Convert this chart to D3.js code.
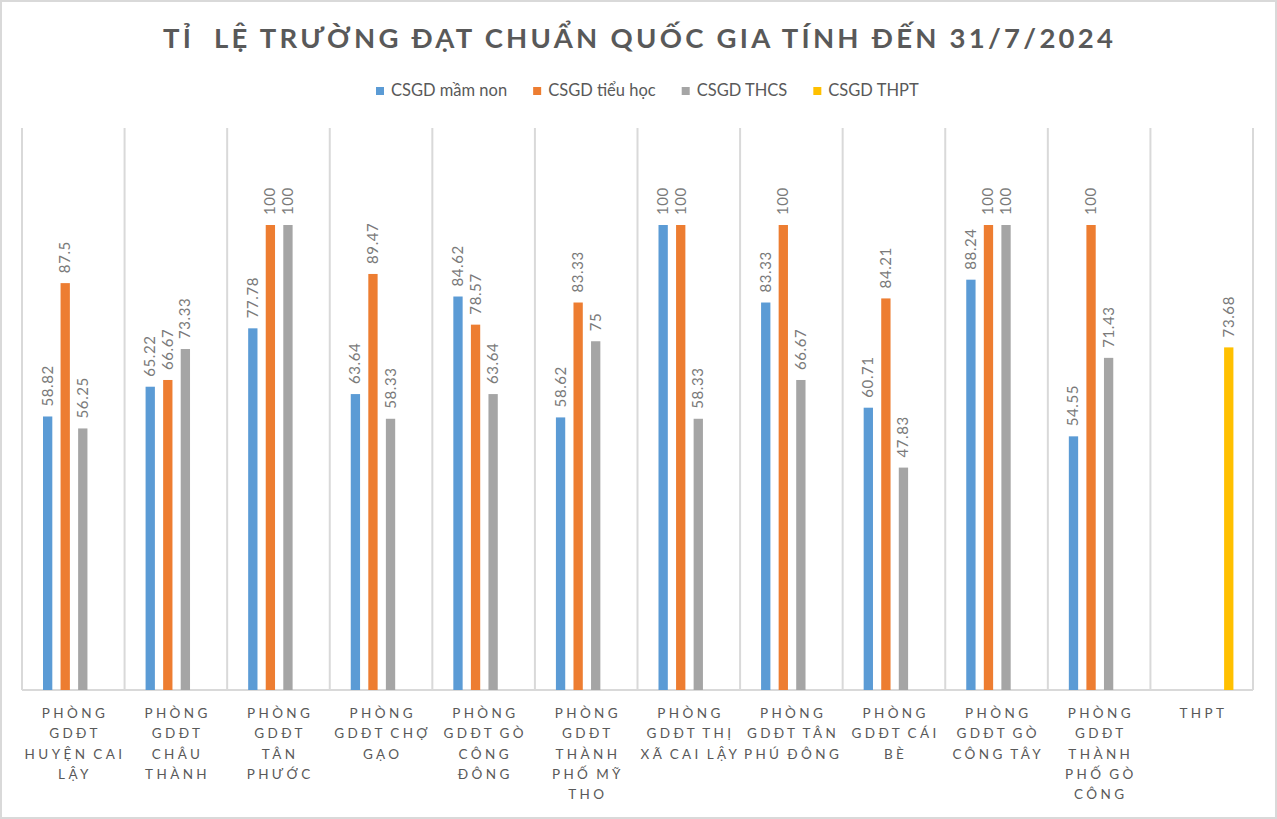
<!DOCTYPE html>
<html>
<head>
<meta charset="utf-8">
<script src="https://cdn.jsdelivr.net/npm/d3@7"></script>
<style>
  html, body { margin: 0; padding: 0; background: #fff; }
  svg { display: block; }
  text { font-family: Lato, "Open Sans", sans-serif; }
</style>
</head>
<body>
<svg id="chart" width="1277" height="819"></svg>
<script>
const titleText = "TỈ  LỆ TRƯỜNG ĐẠT CHUẨN QUỐC GIA TÍNH ĐẾN 31/7/2024";
const categories = [
  "PHÒNG GDĐT HUYỆN CAI LẬY",
  "PHÒNG GDĐT CHÂU THÀNH",
  "PHÒNG GDĐT TÂN PHƯỚC",
  "PHÒNG GDĐT CHỢ GẠO",
  "PHÒNG GDĐT GÒ CÔNG ĐÔNG",
  "PHÒNG GDĐT THÀNH PHỐ MỸ THO",
  "PHÒNG GDĐT THỊ XÃ CAI LẬY",
  "PHÒNG GDĐT TÂN PHÚ ĐÔNG",
  "PHÒNG GDĐT CÁI BÈ",
  "PHÒNG GDĐT GÒ CÔNG TÂY",
  "PHÒNG GDĐT THÀNH PHỐ GÒ CÔNG",
  "THPT"
];
const categoryLines = [
  ["PHÒNG", "GDĐT", "HUYỆN CAI", "LẬY"],
  ["PHÒNG", "GDĐT", "CHÂU", "THÀNH"],
  ["PHÒNG", "GDĐT", "TÂN", "PHƯỚC"],
  ["PHÒNG", "GDĐT CHỢ", "GẠO"],
  ["PHÒNG", "GDĐT GÒ", "CÔNG", "ĐÔNG"],
  ["PHÒNG", "GDĐT", "THÀNH", "PHỐ MỸ", "THO"],
  ["PHÒNG", "GDĐT THỊ", "XÃ CAI LẬY"],
  ["PHÒNG", "GDĐT TÂN", "PHÚ ĐÔNG"],
  ["PHÒNG", "GDĐT CÁI", "BÈ"],
  ["PHÒNG", "GDĐT GÒ", "CÔNG TÂY"],
  ["PHÒNG", "GDĐT", "THÀNH", "PHỐ GÒ", "CÔNG"],
  ["THPT"]
];
const seriesNames = ["CSGD mầm non", "CSGD tiểu học", "CSGD THCS", "CSGD THPT"];
const seriesColors = ["#5b9bd5", "#ed7d31", "#a5a5a5", "#ffc000"];
const mamNon = [58.82, 65.22, 77.78, 63.64, 84.62, 58.62, 100, 83.33, 60.71, 88.24, 54.55, null];
const tieuHoc = [87.5, 66.67, 100, 89.47, 78.57, 83.33, 100, 100, 84.21, 100, 100, null];
const thcs = [56.25, 73.33, 100, 58.33, 63.64, 75, 58.33, 66.67, 47.83, 100, 71.43, null];
const thpt = [null, null, null, null, null, null, null, null, null, null, null, 73.68];
const seriesValues = [mamNon, tieuHoc, thcs, thpt];

const svg = d3.select("#chart");
const W = 1277, H = 819;
const plot = { left: 22, right: 1253, top: 132, bottom: 690 };

// outer border
svg.append("rect").attr("x", 1).attr("y", 1).attr("width", W - 2).attr("height", H - 2)
  .attr("fill", "#fff").attr("stroke", "#d9d9d9").attr("stroke-width", 2);

const x = d3.scaleBand().domain(categories).range([plot.left, plot.right]).padding(0);
const x1 = d3.scaleBand().domain(seriesNames).range([21, 83]).paddingInner(0.47).paddingOuter(0);
const y = d3.scaleLinear().domain([0, 120]).range([plot.bottom, plot.top]);

// vertical gridlines (category separators)
const sepPositions = categories.map(c => x(c)).concat([x(categories[categories.length - 1]) + x.bandwidth()]);
svg.append("g").selectAll("line").data(sepPositions).join("line")
  .attr("x1", d => d).attr("x2", d => d)
  .attr("y1", plot.top - 4).attr("y2", plot.bottom)
  .attr("stroke", "#d9d9d9").attr("stroke-width", 2);
// baseline
svg.append("line").attr("x1", plot.left).attr("x2", plot.right)
  .attr("y1", plot.bottom).attr("y2", plot.bottom)
  .attr("stroke", "#d9d9d9").attr("stroke-width", 2);

// bars
const barData = [];
seriesValues.forEach((vals, si) => {
  vals.forEach((v, ci) => {
    if (v !== null) barData.push({ cat: categories[ci], series: seriesNames[si], color: seriesColors[si], v });
  });
});
svg.append("g").selectAll("rect").data(barData).join("rect")
  .attr("x", d => x(d.cat) + x1(d.series))
  .attr("width", x1.bandwidth())
  .attr("y", d => y(d.v))
  .attr("height", d => y(0) - y(d.v))
  .attr("fill", d => d.color);

// value labels
svg.append("g").selectAll("text").data(barData).join("text")
  .attr("transform", d => {
    const cx = x(d.cat) + x1(d.series) + x1.bandwidth() / 2;
    return `translate(${cx + 5},${y(d.v) - 10}) rotate(-90)`;
  })
  .attr("text-anchor", "start")
  .attr("font-size", 15)
  .attr("letter-spacing", 0.6)
  .attr("fill", "#7a7a7a")
  .text(d => String(d.v));

// category labels
const catG = svg.append("g");
const catSpacing = 3.4;
categories.forEach((c, i) => {
  const t = catG.append("text")
    .attr("y", 718)
    .attr("text-anchor", "middle")
    .attr("font-size", 13.5)
    .attr("letter-spacing", catSpacing)
    .attr("word-spacing", -2)
    .attr("fill", "#595959");
  categoryLines[i].forEach((ln, j) => {
    t.append("tspan").attr("x", x(c) + x.bandwidth() / 2 + catSpacing / 2).attr("dy", j === 0 ? 0 : 20.3).text(ln);
  });
});

// title
const title = svg.append("text")
  .attr("x", 638).attr("y", 48)
  .attr("text-anchor", "middle")
  .attr("font-size", 27.5)
  .attr("font-weight", "bold")
  .attr("fill", "#595959")
  .attr("xml:space", "preserve")
  .style("white-space", "pre")
  .text(titleText);
const baseLen = title.node().getComputedTextLength();
const targetLen = 950;
const ls = (targetLen - baseLen) / (titleText.length - 1);
title.attr("letter-spacing", ls).attr("x", 638 + ls / 2);

// legend
const legend = svg.append("g");
let lx = 376;
seriesNames.forEach((s, i) => {
  const g = legend.append("g").attr("transform", `translate(${lx},0)`);
  g.append("rect").attr("x", 0).attr("y", 87).attr("width", 8).attr("height", 8).attr("fill", seriesColors[i]);
  const t = g.append("text").attr("x", 15).attr("y", 96).attr("font-size", 16.5).attr("fill", "#595959").text(s);
  const w = t.node().getComputedTextLength();
  lx += 15 + w + 26;
});
</script>
</body>
</html>
